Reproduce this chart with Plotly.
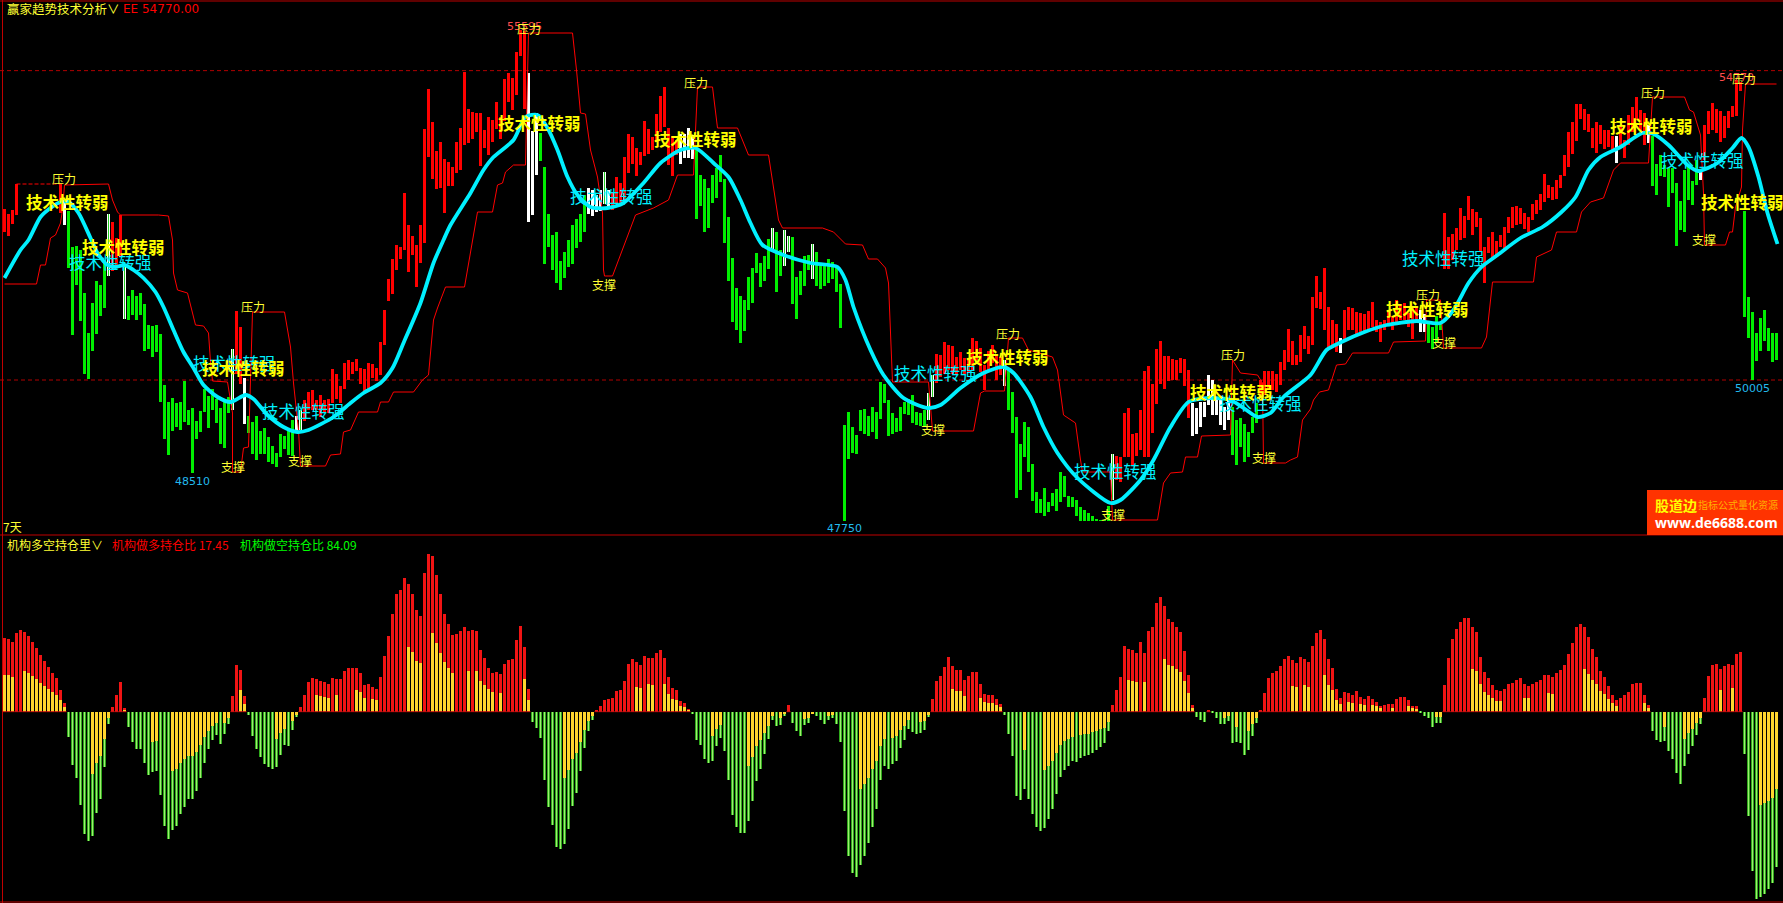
import plotly.graph_objects as go

W, H = 1783, 903
SPLIT = 535

# ---------- upper panel: bar high / low, one entry per session ----------
bar_hi = [52736,52656,52720,53136,0,0,0,0,0,0,
0,0,0,0,53136,52880,52704,52128,52144,52080,
51392,50752,51232,51584,51520,51920,52656,52528,52272,52640,
51808,51344,51440,51344,51392,51216,50880,50864,50880,50736,
49920,49648,49712,49632,49648,49984,49520,49552,49344,49504,
49856,49744,49856,49696,49552,49696,49728,50496,51104,50848,
50032,49424,49328,49424,49184,49232,49088,48944,48832,49136,
49104,49184,49360,49424,49520,49680,49808,49840,49680,49760,
49680,49696,50176,50096,49904,50272,50320,50288,50336,50192,
50176,50272,50256,50192,50608,51120,51616,51936,52160,52128,
52992,52480,52304,52160,52480,54016,54656,54128,53664,53808,
53536,53488,53408,53808,54032,54928,54336,54288,54272,54272,
54000,54208,54160,54448,54208,54816,54912,54832,55248,55595,
55584,54912,53984,54272,53952,53408,52656,52320,52368,51904,
52048,52240,52480,52576,52656,52960,53072,53040,52960,53040,
53328,53040,53008,53248,53152,53568,53936,53888,53712,53648,
54144,54016,53888,54256,54544,54688,54032,53904,53840,53936,
53936,54032,53920,53680,53280,53216,53072,53280,53392,53600,
53216,52608,51952,51472,51344,51280,51648,51792,52032,51872,
51984,52256,52432,52368,52080,52400,52304,52288,51648,51744,
51984,52000,52176,52048,51824,51824,51936,51888,51808,51536,
49280,49488,49248,49120,49520,49536,49424,49568,49488,49968,
49936,49680,49472,49392,49568,49648,49696,49760,49488,49472,
49520,49792,50080,50416,50400,50608,50560,50544,50368,50448,
50352,50320,50672,50624,50512,50240,50464,50560,50400,50368,
50320,50160,49808,49408,48976,49328,49248,48656,48208,48096,
48272,48048,48192,48256,48528,48464,48144,48128,48080,47968,
47920,47872,47824,47776,47760,47760,47992,48816,48784,48768,
49472,49552,49136,49152,49520,50144,50224,49936,50496,50624,
50384,50384,50336,50320,50352,50336,50160,49632,49552,49648,
49648,50080,50000,49728,49680,49568,49712,49568,49360,49392,
49296,49168,49408,49632,50000,50144,50144,50144,50096,50288,
50480,50816,50624,50400,50720,50864,50704,51328,51664,51408,
51792,51168,50960,50896,50672,51120,51168,51152,51088,51072,
51056,51104,51248,50960,50928,50960,51120,51024,51280,51200,
51232,51072,51168,51152,51120,51056,50928,50848,51024,50928,
52672,52288,52336,52432,52752,52624,52944,52736,52688,52592,
52128,52288,52368,52224,52320,52448,52608,52768,52784,52752,
52672,52608,52816,52880,52976,53296,53120,53088,53200,53280,
53600,53968,54128,54416,54416,54336,54256,54032,54128,54080,
54000,54000,53904,53904,54080,53840,54240,54368,54528,54320,
54272,54080,53904,53456,53600,53440,53392,53392,53152,52864,
53360,53424,53184,53520,53360,54080,54304,54432,54336,54304,
54224,54304,54384,54800,54770,52704,51328,51088,50752,50992,
51120,50832,50752,50752]

bar_lo = [52368,52304,52496,52640,0,0,0,0,0,0,
0,0,0,0,52672,52480,51792,50720,51520,50944,
50096,50016,50464,50736,51024,51152,51664,51744,51792,51968,
50976,50960,51040,50960,51040,50464,50496,50368,50448,49648,
49056,48800,49184,49248,49200,49328,49280,48510,49056,49168,
49488,49232,49520,49312,48976,48912,49472,49520,50096,49936,
49296,49152,48816,48720,48816,48816,48688,48656,48608,48768,
48896,48800,48784,49200,49200,49344,49520,49520,49520,49408,
49472,49472,49632,49696,49632,49856,50000,50096,50144,49936,
49808,49840,50032,49984,50080,50560,51264,51376,51760,51936,
52080,51728,52000,51488,51872,52192,53568,53216,53056,53072,
52672,53104,53104,53312,53360,53760,53792,53856,53968,53424,
53712,53600,53808,54016,53856,54144,54448,54320,54560,55184,
54336,52528,52640,53280,53504,51856,52128,51760,51552,51440,
51632,51808,51856,52112,52208,52368,52656,52624,52688,52704,
52816,52736,52720,52816,52800,52880,53312,53456,53264,53440,
53584,53616,53680,53808,53968,54048,53440,53264,53600,53456,
53552,53552,53536,52576,52784,52368,52432,52832,52912,53168,
52192,51584,50928,50800,50592,50784,51120,51232,51712,51488,
51584,51776,52096,51408,51664,51824,52048,51216,50976,51360,
51504,51760,51616,51504,51456,51504,51552,51616,51408,50832,
47750,48736,48832,48816,49184,49136,49104,49168,49056,49376,
49632,49104,49136,49168,49184,49456,49440,49312,49280,49264,
49248,49360,49728,49952,50048,50096,50160,50096,50080,50160,
50096,50112,50160,50320,50128,49840,50160,50272,50000,50080,
49904,49520,49152,48112,48240,48768,48528,48064,47872,47872,
47824,47888,47984,47904,48048,48128,47968,47968,47824,47750,
47750,47750,47750,47750,47750,47750,47750,48080,48400,48368,
48768,48768,48640,48784,48880,48768,48768,49152,49616,49936,
49856,49984,50000,50000,50112,49904,49392,49104,49136,49248,
49408,49600,49440,49440,49280,49200,49360,48800,48640,48928,
48688,48768,49152,49312,49680,49760,49840,49840,49808,49920,
50160,50288,50240,50240,50288,50496,50416,50560,51152,51136,
50800,50512,50560,50448,50432,50640,50800,50800,50720,50768,
50768,50816,50848,50768,50608,50800,50880,50800,50880,50960,
50960,50848,50656,50960,50768,50768,50592,50496,50592,50800,
51776,51776,51920,52080,52240,52272,52560,52320,52448,52064,
51552,52032,51920,52000,52128,52080,52352,52432,52480,52496,
52416,52368,52560,52656,52720,52848,52912,52880,52896,53072,
53264,53408,53616,53824,54176,54000,53968,53712,53632,53776,
53696,53728,53680,53472,53728,53552,53760,53968,54160,54000,
53760,53792,53104,52960,53264,53248,52768,52992,52144,52400,
52368,52880,52800,53120,53200,53520,53936,54000,53952,53808,
53872,54032,54208,54224,54624,51008,50672,50005,50304,50464,
50624,50464,50288,50320]

# r = up, g = down, w = white, o = white with green core, n = none drawn
kind_runs = [('r',4),('n',10),('r',1),('w',1),('g',10),('o',1),('r',3),('o',1),('g',26),('o',1),
('r',2),('w',1),('g',12),('w',1),('o',1),('r',56),('w',3),('g',12),('w',4),('o',1),('w',1),
('r',17),('w',4),('g',19),('o',1),('g',2),('o',2),('g',5),('o',1),('g',28),('o',2),('r',17),
('o',1),('g',26),('o',1),('r',19),('w',10),('g',7),('r',20),('w',1),('r',19),('w',2),('g',4),
('r',43),('w',1),('r',7),('w',1),('g',12),('w',1),('r',10),('g',9)]
bar_kind = [k for k, n in kind_runs for _ in range(n)]

# ---------- trend line ----------
ma_idx = [0,4,6,9,11.5,14,16,18.5,21.5,23.25,25.75,27.75,30,32.25,34.75,37.75,39.75,42.25,44.75,47.25,49.75,53.25,56.5,60.25,62.25,65.75,69.75,73.25,76,82.25,86.5,89.75,94,97,99.75,104,107.25,109.75,111.5,116.5,119.75,122.25,127.25,130.25,133.25,135.75,138.25,140.75,143.25,146.5,150.75,154.75,159.75,164,169,172.75,177.25,181,184,186.5,189.5,194.75,201.5,208.25,210.25,212.25,216.5,219.75,224.75,230.75,234,239,244.75,249.75,252.25,256.5,259.75,263.25,268.25,276.5,279,284,287.25,291.5,296,301.5,306.5,309.75,313.25,316.5,319.75,326.5,330.5,334.25,340,345.5,353,359,362.25,366,369.25,373.25,379,384.5,389.25,392.75,396,399,404,409.5,412.25,416,420.75,423.5,428.25,432,434.25,436,438.5,440.75,443.25]
ma_val = [51632,52080,52240,52608,52752,52848,52848,52672,52272,52032,51840,51808,51840,51760,51632,51408,51168,50800,50448,50192,49920,49728,49648,49760,49696,49440,49248,49168,49200,49408,49632,49792,49952,50192,50592,51232,51872,52240,52480,52992,53360,53568,53840,54208,54240,54032,53680,53248,52960,52768,52752,52832,53152,53472,53680,53712,53472,53248,52880,52512,52160,52000,51872,51808,51600,51168,50480,50080,49712,49552,49600,49872,50112,50208,50112,49728,49248,48832,48432,48032,48080,48400,48720,49248,49648,49712,49680,49552,49408,49472,49728,50080,50480,50608,50768,50880,50944,50912,51120,51552,51808,52000,52272,52448,52688,52928,53360,53568,53728,53952,53936,53760,53440,53344,53472,53712,53872,53728,53248,52672,52176]

# ---------- pressure / support line ----------
band_idx = [0,8,9,10.25,11.5,12.75,14,14.5,15,26,27,28.25,29,38.5,41,41.5,42,42.25,43.25,45.75,47.75,49.75,51,51.5,52,55.75,57,57,59,59.75,61,62,70,71.5,72.25,73.5,74,80.25,81.5,84,84.75,86.5,88.5,93.25,94,96,97.25,102.25,104.5,106,107.25,108.25,110.25,115,115.75,118.25,122,123.25,124.5,125.25,127.25,130.25,131,142,143,144,145.25,146.5,148.25,149.5,149.75,150,152,154.75,157.75,162.25,166,168.25,172.25,173.25,177,178.25,183.25,186,191,193.5,194.5,204.5,207.25,210.25,214.5,216,218.25,220.25,221,222,231,232,242.25,244,245,250,251,254.5,256,262,263.25,264.75,267.75,269,269.5,276.5,277,288.25,289.75,291.5,294.5,295.25,298.25,299.25,306.5,307,309,313.25,314.5,314.75,320.25,321.5,323.25,324.5,326.5,327.25,328.75,331,333,335.25,337,346,347.25,355.25,355.5,359,359.75,369.25,370.5,372,382.25,383,386.75,388,393,394.25,396.5,399.75,402.25,404,411,412,420,421.25,422.25,424,424.75,425,430.25,431.25,432,432.75,434.25,434.5,435.25,443]
band_val = [51536,51536,51840,51840,52272,52320,52512,52720,53120,53136,52880,52688,52640,52640,52624,52400,52240,51712,51440,51392,50880,50864,50752,50288,49984,49968,49472,48528,48528,48912,48928,51088,51088,50528,49952,49200,48624,48624,48800,48816,49168,49200,49488,49488,49648,49648,49808,49808,50000,50080,50960,51152,51488,51488,51760,52688,52688,53120,53152,53328,53440,53440,55552,55552,54960,54272,54256,53680,53248,52672,51760,51664,51664,52128,52640,52752,52880,53280,53280,54688,54688,54032,54032,53600,53600,52560,52432,52432,52368,52176,52160,51936,51936,51792,51552,49968,49968,49184,49184,49792,49824,49824,50672,50672,50480,50368,50160,49440,49312,48720,48528,48528,47760,47760,48352,48512,48528,48768,48768,49104,49120,50320,50112,50080,49952,48672,48672,48720,48768,49360,49536,49680,49808,49840,50240,50256,50432,50432,50608,50624,51280,51280,50512,50512,50688,51568,51568,51968,52080,52368,52368,52688,52848,52912,53360,53472,53472,54528,54528,54320,54288,53920,52992,52160,52160,52368,52368,52768,53088,54000,54736,54736]
cap_idx = [3, 14]
cap_val = [53136, 53136]
guide_levels = [54950, 50000]

# ---------- upper panel labels ----------
weak_idx = [15.75,29.75,59.75,133.75,172.75,250.75,306.75,355.75,411.75,434.5]
weak_val = [52848,52128,50192,54112,53856,50368,49808,51136,54064,52848]
strong_idx = [26.6,57.6,74.75,151.75,232.75,277.75,314,359.75,424.6]
strong_val = [51888,50272,49504,52944,50112,48544,49632,51952,53520]
press_idx = [14.75,62,131,172.75,250.75,307,355.75,412,434.75]
press_val = [53232,51184,55632,54768,50752,50416,51376,54608,54832]
supp_idx = [57,73.75,149.75,232,277,314.75,359.75,424.75]
supp_val = [48624,48720,51536,49216,47856,48768,50608,52256]
low_labels = [("48510",47,48384),("47750",210,47632),("50005",437,49872)]
high_labels = [("55595",130,55664),("54770",433,54848)]

# ---------- lower panel ----------
inst_main = [33.2,32.7,31.4,35.4,36.8,35.9,34.1,31.4,28.7,25.5,
22.8,20.1,17.4,15.2,9.8,3.9,-11.4,-24,-29.9,-42,
-55.1,-58.2,-56,-45.6,-39.3,-24.9,-5.6,2.1,7.5,13.4,
1.7,-6.9,-13.7,-16.8,-16.8,-23.1,-28.5,-27.2,-26.7,-37.5,
-51.5,-57.3,-53.3,-51.5,-46.1,-42.9,-39.3,-39.3,-35.7,-29.9,
-23.1,-16.8,-12.8,-10.5,-14.6,-10.1,-5.6,7.1,21,18.8,
7.1,-1.5,-11,-16.8,-20.4,-23.6,-24.9,-25.8,-24.9,-19.5,
-15,-15.5,-8.3,-2.4,2.1,7.5,13.4,15.2,14.7,13.8,
13.4,12.5,15.2,14.7,14.7,18.3,19.7,19.7,19.7,17.4,
12,12.5,11.1,10.2,15.6,25.1,34.1,44,53,54.8,
60.2,57.5,53,45.8,43.1,62.4,71,70.1,61.5,53,
44,39.5,34.5,35,36.3,38.1,36.3,36.8,36.3,27.8,
24.2,19.7,17.4,17.9,17,21.5,23.3,23.7,32.3,38.6,
29.1,10.2,-4.7,-7.4,-11.9,-30.8,-42.9,-51,-60.9,-61.8,
-59.6,-52.8,-42.5,-36.6,-26.7,-16.4,-8.7,-3.8,0.8,2.6,
5.3,5.7,6.2,9.3,9.8,13.8,21.5,23.7,22.4,21,
25.1,24.2,24.2,26.4,27.8,24.2,15.6,10.7,9.8,4.8,
3.9,1.2,-1.1,-12.8,-15,-21.3,-23.1,-22.2,-15.5,-11.9,
-17.7,-30.8,-46.5,-51.9,-54.6,-54.6,-49.2,-40.2,-31.2,-25.8,
-19.1,-12.3,-3.8,-6.5,-6,-2,3,-5.1,-8.7,-11,
-6,-5.1,-1.1,-2,-3.8,-5.6,-3.8,-2.9,-5.6,-13.7,
-44.7,-65,-72.6,-74.4,-69,-65,-59.1,-51.9,-43.8,-30.8,
-24.5,-25.8,-23.6,-22.2,-16.4,-12.8,-7.8,-9.2,-10.1,-9.6,
-8.3,-2.4,5.7,13.8,16.1,20.1,24.6,20.6,18.8,18.8,
14.3,16.1,17.9,17.9,12.5,8,7.5,7.5,5.7,3.5,
-1.5,-10.1,-20,-38,-39.8,-34.8,-39.3,-46.1,-51.9,-53.7,
-52.4,-48.3,-43.8,-37.1,-29.4,-26.3,-24.5,-22.2,-22.7,-20.9,
-20,-19.5,-18.6,-17.3,-15.9,-14.1,-8.7,3,9.8,15.6,
29.6,28.2,27.8,26.4,31.4,26.4,36.3,38.1,48.9,51.6,
47.6,41.7,40.4,38.1,35.9,27.3,16.5,3,-2.4,-3.8,
-4.7,0.8,-0.2,-2.9,-5.6,-5.6,-4.2,-14.1,-13.7,-14.1,
-19.5,-17.3,-11,-5.1,0.8,8.4,15.2,17.4,18.3,20.6,
23.7,25.1,23.3,21.9,24.6,23.7,22.4,29.6,35.4,36.8,
32.7,23.7,19.7,10.2,6.2,8.9,8.4,7.5,9.3,6.6,
5.7,7.1,5.7,4.4,2.6,3,3.5,3.5,5.7,6.6,
6.6,5.3,2.6,2.6,-0.6,-2,-2.9,-6.9,-5.1,-5.1,
12,24.2,32.7,37.2,40.4,42.2,42.2,38.1,35.9,24.6,
17.9,15.2,12,9.8,9.3,10.2,12.5,12.9,14.3,15.2,
12.5,11.6,12.5,13.4,14.3,16.5,16.5,15.6,17.4,18.8,
21,26,30.9,38.1,39.5,38.1,33.6,28.2,24.6,18.3,
15.6,11.6,7.5,5.3,6.2,7.5,8.9,12.5,12.9,12.9,
7.5,3,-8.7,-12.8,-13.7,-13.2,-17.7,-21.3,-27.6,-32.6,
-24.5,-19.1,-15.5,-10.5,-5.6,6.2,16.1,21,21.5,19.2,
20.6,21.5,21,26,26.9,-19.1,-47,-71.7,-84.09,-83.4,
-82.1,-79.8,-77.1,-69.9]

inst_inner = {0:16.5,1:16.5,2:15.6,5:18.3,6:17.4,7:16.1,8:14.7,9:12.9,10:11.6,11:10.2,12:8.9,13:7.5,14:5.3,15:2.1,
22:-28.1,23:-23.1,24:-20,25:-12.3,26:-2.9,30:0.8,37:-13.7,38:-13.2,42:-26.7,43:-25.8,44:-23.1,45:-21.3,46:-20,47:-20,
48:-18.2,49:-15,50:-11.4,51:-8.7,52:-6.5,53:-5.1,55:-5.1,56:-2.9,59:9.8,60:3.5,68:-12.3,69:-9.6,70:-7.8,72:-4.2,73:-1.5,
78:7.5,79:7.1,80:6.6,81:6.2,83:7.5,88:9.8,89:8.9,90:6.2,92:5.7,93:5.3,101:29.1,102:26.9,103:22.8,104:21.9,
107:35.4,108:30.9,109:26.4,110:22.4,111:19.7,112:17.4,116:18.3,118:18.3,119:13.8,120:12,121:10.2,122:8.9,124:8.4,
130:14.7,131:5.3,140:-29.9,141:-26.3,142:-21.3,143:-18.6,144:-13.7,145:-8.3,146:-4.2,147:-2,
158:11.1,159:10.7,161:12.5,162:12,165:12.5,166:8,167:5.7,168:5.3,169:2.6,170:2.1,171:0.8,
177:-11,178:-7.8,179:-6,186:-24.5,187:-20.4,188:-15.5,189:-12.8,190:-9.6,191:-6.5,192:-2,194:-2.9,195:-1.1,
200:-3.3,201:-2.9,202:-1.1,206:-2,207:-1.5,214:-34.8,215:-32.6,216:-29.9,217:-25.8,218:-22.2,219:-15.5,220:-12.3,
222:-11.9,223:-11,224:-8.3,225:-6.5,226:-3.8,229:-4.7,230:-4.2,231:-1.5,237:10.2,238:9.3,239:9.3,240:7.1,
244:6.2,245:4.4,246:3.9,247:3.9,248:3,249:2.1,255:-17.3,260:-26.3,261:-24.5,262:-22.2,263:-18.6,264:-15,265:-13.2,
266:-12.3,267:-11.4,269:-10.5,270:-10.1,271:-10.1,272:-9.2,273:-8.7,274:-7.8,275:-7.4,276:-4.7,
281:14.3,282:13.8,283:13.4,285:13.4,290:23.7,291:21,292:20.6,293:19.2,294:17.9,295:13.8,296:8.4,297:1.7,
305:-2.9,306:-2,308:-6.9,311:-8.7,312:-5.6,313:-2.9,322:11.6,323:11.1,325:12,326:11.1,330:16.5,331:12,332:9.8,
333:5.3,334:3.5,336:4.4,337:3.9,339:3.5,340:3,342:3,343:2.6,344:1.7,347:1.7,351:2.6,352:1.7,353:1.2,358:-2.4,359:-2.4,
367:19.2,368:18.3,369:12.5,370:8.9,371:7.5,372:6.2,373:4.8,374:4.8,380:6.2,381:6.2,386:8.4,387:8,
395:19.2,396:17,397:14.3,398:12.5,399:9.3,400:8,401:5.7,402:3.9,403:2.6,410:3.9,411:1.7,415:-6.9,
420:-12.3,421:-9.6,422:-7.8,423:-5.1,424:-2.9,429:9.8,432:10.7,439:-42,440:-41.1,441:-40.2,442:-38.9,443:-34.8}

n = len(inst_main)
idx = list(range(n))

RED = "#ff0000"
GREEN = "#00ee00"
WHITE = "#ffffff"
YEL = "#ffff33"
CYAN = "#00f0ff"
CJK = "Noto Sans CJK SC"
NUM = "DejaVu Sans"

fig = go.Figure()


def candle(kind, color, width=0.75):
    sel = [i for i in range(len(bar_hi)) if bar_kind[i] in kind]
    fig.add_trace(go.Bar(x=sel, y=[bar_hi[i] - bar_lo[i] for i in sel], base=[bar_lo[i] for i in sel],
                         width=width, marker=dict(color=color, line=dict(width=0)),
                         xaxis="x", yaxis="y", hoverinfo="skip", showlegend=False))


candle("r", RED)
candle("g", GREEN)
candle("wo", WHITE)
candle("o", "#22cc22", 0.25)

fig.add_trace(go.Scatter(x=band_idx, y=band_val, mode="lines", line=dict(color="#ff0000", width=1),
                         xaxis="x", yaxis="y", hoverinfo="skip", showlegend=False))
fig.add_trace(go.Scatter(x=cap_idx, y=cap_val, mode="lines", line=dict(color="#ff0000", width=1, dash="4px,2px"),
                         xaxis="x", yaxis="y", hoverinfo="skip", showlegend=False))
fig.add_trace(go.Scatter(x=ma_idx, y=ma_val, mode="lines", line=dict(color=CYAN, width=3.8, shape="spline", smoothing=0.7),
                         xaxis="x", yaxis="y", hoverinfo="skip", showlegend=False))

pos = [i for i in idx if inst_main[i] > 0]
neg = [i for i in idx if inst_main[i] < 0]
fig.add_trace(go.Bar(x=pos, y=[inst_main[i] for i in pos], width=0.75,
                     marker=dict(color="#f01414", line=dict(width=0)),
                     xaxis="x", yaxis="y2", hoverinfo="skip", showlegend=False))
fig.add_trace(go.Bar(x=neg, y=[inst_main[i] for i in neg], width=0.75,
                     marker=dict(color="#2fa81c", line=dict(width=0)),
                     xaxis="x", yaxis="y2", hoverinfo="skip", showlegend=False))
fig.add_trace(go.Bar(x=neg, y=[inst_main[i] for i in neg], width=0.25,
                     marker=dict(color="#a0ee70", line=dict(width=0)),
                     xaxis="x", yaxis="y2", hoverinfo="skip", showlegend=False))
fig.add_trace(go.Bar(x=list(inst_inner), y=list(inst_inner.values()), width=0.75,
                     marker=dict(color="#ffd52e", line=dict(width=0)),
                     xaxis="x", yaxis="y2", hoverinfo="skip", showlegend=False))

# thin baseline under the runs of positive bars
base_x, base_y = [], []
for i in idx:
    if inst_main[i] > 0:
        base_x += [i - 0.5, i + 0.5, None]
        base_y += [0, 0, None]
fig.add_trace(go.Scatter(x=base_x, y=base_y, mode="lines", line=dict(color="#c81010", width=1),
                         xaxis="x", yaxis="y2", hoverinfo="skip", showlegend=False))

ann = []


def data_text(text, x, y, color, size, family=CJK, bold=False):
    ann.append(dict(text=f"<b>{text}</b>" if bold else text, x=x, y=y, xref="x", yref="y", showarrow=False,
                    xanchor="center", yanchor="middle", borderpad=0, font=dict(color=color, size=size, family=family)))


def page_text(text, px, py, color, size, family=CJK, bold=False):
    ann.append(dict(text=f"<b>{text}</b>" if bold else text, x=px / W, y=1 - py / H, xref="paper", yref="paper",
                    showarrow=False, xanchor="left", yanchor="middle", borderpad=0,
                    font=dict(color=color, size=size, family=family)))


for t, x, y in high_labels:
    data_text(t, x, y, "#ff4d4d", 11, NUM)
for t, x, y in low_labels:
    data_text(t, x, y, "#22bbee", 11, NUM)
for x, y in zip(strong_idx, strong_val):
    data_text("技术性转强", x, y, "#00f0ff", 16.5)
for x, y in zip(weak_idx, weak_val):
    data_text("技术性转弱", x, y, "#ffff00", 16.5, CJK, True)
for x, y in zip(press_idx, press_val):
    data_text("压力", x, y, "#ffff33", 12)
for x, y in zip(supp_idx, supp_val):
    data_text("支撑", x, y, "#ffff33", 12)

page_text("赢家趋势技术分析∨", 6, 9, YEL, 12.5)
page_text("EE 54770.00", 122, 9, "#ff0000", 12, NUM)
page_text("7天", 2, 526, YEL, 12)
page_text("机构多空持仓里∨", 6, 544, YEL, 12)
page_text("机构做多持仓比 17.45", 111, 544, "#ff0000", 12)
page_text("机构做空持仓比 84.09", 239, 544, "#00ff00", 12)
page_text("股道边", 1654, 505, "#ffff00", 14, CJK, True)
page_text("指标公式量化资源", 1697, 505, "#ffb000", 10)
page_text("www.de6688.com", 1654, 522, "#ffffff", 14, "Open Sans", True)

shapes = []
for lvl in guide_levels:
    shapes.append(dict(type="line", xref="paper", x0=0, x1=1, yref="y", y0=lvl, y1=lvl,
                       line=dict(color="#b00000", width=1, dash="4px,3px"), layer="below"))
BORDER = "#c00000"
for y in (1, SPLIT, H - 1):
    shapes.append(dict(type="line", xref="paper", yref="paper", x0=0, x1=1, y0=1 - y / H, y1=1 - y / H,
                       line=dict(color=BORDER, width=1)))
shapes.append(dict(type="line", xref="paper", yref="paper", x0=2.5 / W, x1=2.5 / W, y0=0, y1=1,
                   line=dict(color=BORDER, width=1)))
shapes.append(dict(type="rect", xref="paper", yref="paper", x0=1647 / W, x1=1, y0=1 - 535 / H, y1=1 - 490 / H,
                   fillcolor="#ff3300", line=dict(width=0)))

hide = dict(visible=False, showgrid=False, zeroline=False, fixedrange=True)
fig.update_layout(
    width=W, height=H, autosize=False,
    margin=dict(l=0, r=0, t=0, b=0, pad=0),
    paper_bgcolor="#000000", plot_bgcolor="#000000",
    barmode="overlay", bargap=0, showlegend=False,
    xaxis=dict(range=[-1.125, 444.625], domain=[0, 1], anchor="y2", **hide),
    yaxis=dict(range=[47520, 56080], domain=[1 - SPLIT / H, 1], **hide),
    yaxis2=dict(range=[-86.1, 79.5], domain=[0, 1 - SPLIT / H], **hide),
    annotations=ann, shapes=shapes,
)

fig.write_html("out.html", config=dict(displayModeBar=False),
               post_script="document.body.style.margin='0';document.body.style.background='#000';document.documentElement.style.overflow='hidden';")
